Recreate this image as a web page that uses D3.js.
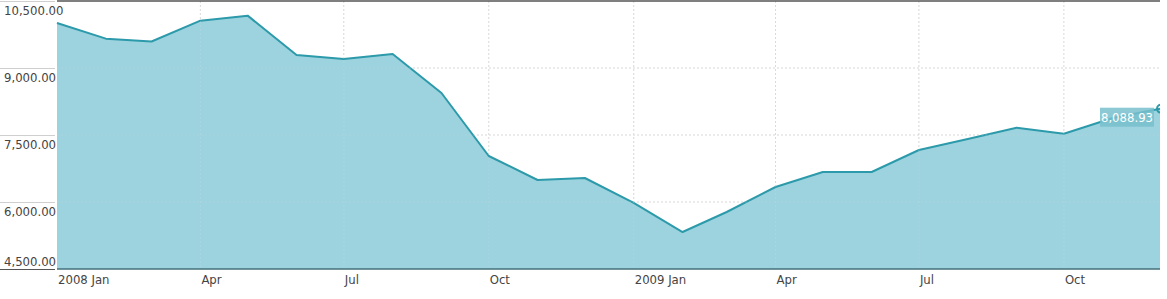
<!DOCTYPE html>
<html>
<head>
<meta charset="utf-8">
<script src="https://cdn.jsdelivr.net/npm/d3@7"></script>
<style>
  body { margin: 0; background: #fff; }
  svg text { font-family: "DejaVu Sans Condensed", "DejaVu Sans", sans-serif; font-stretch: condensed; }
</style>
</head>
<body>
<div id="chart"></div>
<script>
// monthly values, 2008 Jan .. 2009 Dec
const months = ['2008-01','2008-02','2008-03','2008-04','2008-05','2008-06','2008-07','2008-08','2008-09','2008-10','2008-11','2008-12',
                '2009-01','2009-02','2009-03','2009-04','2009-05','2009-06','2009-07','2009-08','2009-09','2009-10','2009-11','2009-12']
const values = [10008, 9657, 9594, 10059, 10172, 9291, 9202, 9314, 8440, 7030, 6493, 6537,
                5978, 5328, 5776, 6336, 6672, 6672, 7164, 7411, 7664, 7529, 7881, 8088.93]
const yTicks = [4500, 6000, 7500, 9000, 10500]
const xTickMonths = ['2008-01','2008-04','2008-07','2008-10','2009-01','2009-04','2009-07','2009-10']

const W = 1167, H = 299
const margin = { top: 1, right: 7, bottom: 30, left: 57 }
const width = W - margin.left - margin.right,
      height = H - margin.top - margin.bottom

const parse = d3.timeParse('%Y-%m')
const data = months.map((m, i) => ({ date: parse(m), value: values[i] }))

const x = d3.scaleTime().domain(d3.extent(data, d => d.date)).range([0, width])
const y = d3.scaleLinear().domain([4500, 10500]).range([height, 0])

const svg = d3.select('#chart').append('svg')
  .attr('width', W).attr('height', H)
const g = svg.append('g').attr('transform', `translate(${margin.left},${margin.top})`)

svg.append('clipPath').attr('id', 'plotclip')
  .append('rect').attr('x', -5).attr('y', -5).attr('width', width + 5).attr('height', height + 10)

// dotted grid
g.append('g').selectAll('line.gy')
  .data(yTicks.slice(1, -1))
  .join('line')
  .attr('x1', 0).attr('x2', width)
  .attr('y1', d => y(d)).attr('y2', d => y(d))
  .attr('stroke', '#d4d4d4').attr('stroke-dasharray', '2,2')
g.append('g').selectAll('line.gx')
  .data(xTickMonths.slice(1).map(parse))
  .join('line')
  .attr('x1', d => x(d)).attr('x2', d => x(d))
  .attr('y1', 0).attr('y2', height)
  .attr('stroke', '#d4d4d4').attr('stroke-dasharray', '2,2')

// area + line
const area = d3.area().x(d => x(d.date)).y0(height).y1(d => y(d.value))
const line = d3.line().x(d => x(d.date)).y(d => y(d.value))

g.append('path').datum(data)
  .attr('d', area)
  .attr('fill', '#8ccbd8').attr('fill-opacity', 0.85)
g.append('path').datum(data)
  .attr('d', line)
  .attr('fill', 'none').attr('stroke', '#2c9aaa').attr('stroke-width', 2)
  .attr('stroke-linejoin', 'round')

// redraw grid faintly over the area
g.append('g').selectAll('line')
  .data(xTickMonths.slice(1).map(parse))
  .join('line')
  .attr('x1', d => x(d)).attr('x2', d => x(d))
  .attr('y1', 0).attr('y2', height)
  .attr('stroke', '#ffffff').attr('stroke-opacity', 0.18).attr('stroke-dasharray', '2,2')
g.append('g').selectAll('line')
  .data(yTicks.slice(1, -1))
  .join('line')
  .attr('x1', 0).attr('x2', width)
  .attr('y1', d => y(d)).attr('y2', d => y(d))
  .attr('stroke', '#ffffff').attr('stroke-opacity', 0.18).attr('stroke-dasharray', '2,2')

// top and bottom frame lines
g.append('line').attr('x1', 0).attr('x2', width).attr('y1', 0).attr('y2', 0)
  .attr('stroke', '#555').attr('stroke-width', 1.5)
g.append('line').attr('x1', 0).attr('x2', width).attr('y1', height).attr('y2', height)
  .attr('stroke', '#44707a').attr('stroke-width', 1.5)

// y axis: tick lines out to the left, labels sit under them (last one above)
const fmt = d3.format(',.2f')
const yAxis = g.append('g')
yAxis.selectAll('line')
  .data(yTicks)
  .join('line')
  .attr('x1', -margin.left).attr('x2', -2)
  .attr('y1', d => y(d) + 0.5).attr('y2', d => y(d) + 0.5)
  .attr('stroke', d => d === 4500 ? '#555' : '#cfcfcf')
yAxis.selectAll('text')
  .data(yTicks)
  .join('text')
  .attr('x', -53)
  .attr('y', d => d === 4500 ? y(d) - 3 : y(d) + 14)
  .attr('font-size', 13)
  .attr('fill', '#444')
  .text(d => fmt(d))

// x labels
const monthFmt = d3.timeFormat('%b')
g.append('g').selectAll('text')
  .data(xTickMonths.map(parse))
  .join('text')
  .attr('x', d => x(d) + 1)
  .attr('y', height + 15)
  .attr('font-size', 13)
  .attr('fill', '#444')
  .text(d => d.getMonth() === 0 ? d3.timeFormat('%Y')(d) + ' ' + monthFmt(d) : monthFmt(d))

// last value marker + label
const last = data[data.length - 1]
g.append('g').attr('clip-path', 'url(#plotclip)')
  .append('circle')
  .attr('cx', x(last.date) + 1).attr('cy', y(last.value))
  .attr('r', 4)
  .attr('fill', 'none').attr('stroke', '#2c9aaa').attr('stroke-width', 2)
const lbl = g.append('g').attr('transform', `translate(${x(last.date) - 60},${y(last.value) - 1})`)
lbl.append('rect')
  .attr('width', 54).attr('height', 19)
  .attr('fill', '#78c0cc').attr('fill-opacity', 0.85)
lbl.append('text')
  .attr('x', 27).attr('y', 14)
  .attr('text-anchor', 'middle')
  .attr('font-size', 13)
  .attr('fill', '#fff')
  .text(fmt(last.value))
</script>
</body>
</html>
